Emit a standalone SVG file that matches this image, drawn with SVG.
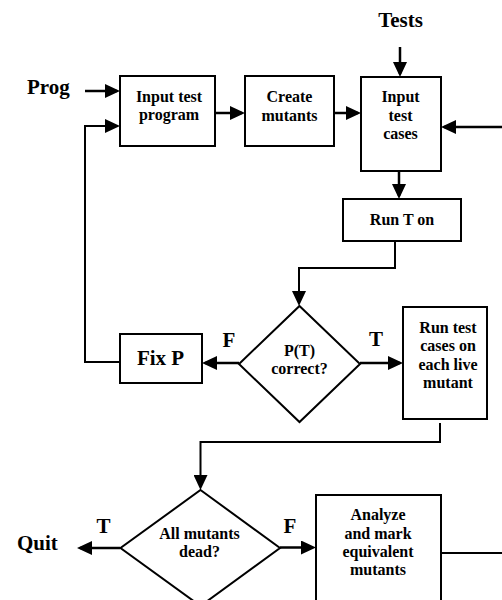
<svg xmlns="http://www.w3.org/2000/svg" width="502" height="600" viewBox="0 0 502 600">
<style>
.box{fill:#fff;stroke:#000;stroke-width:2}
.dia{fill:#fff;stroke:#000;stroke-width:2}
.t{font-family:"Liberation Serif","Times New Roman",serif;font-weight:bold;font-size:16px;text-anchor:middle;fill:#000}
.b{font-family:"Liberation Serif","Times New Roman",serif;font-weight:bold;font-size:21px;fill:#000}
.c{fill:none;stroke:#000;stroke-width:2.5}
.thin{fill:none;stroke:#000;stroke-width:2}
</style>
<defs>
<marker id="ah" markerWidth="15" markerHeight="14" refX="12" refY="7" orient="auto" markerUnits="userSpaceOnUse">
<path d="M0,0 L15,7 L0,14 z" fill="#000"/>
</marker>
</defs>
<rect width="502" height="600" fill="#fff"/>
<g id="connectors">
<path class="c" d="M85,91 H117" marker-end="url(#ah)"/>
<path class="thin" d="M120,362 H85 V126 H117" marker-end="url(#ah)"/>
<path class="c" d="M215,113 H242" marker-end="url(#ah)"/>
<path class="c" d="M334,113 H358" marker-end="url(#ah)"/>
<path class="c" d="M400,47 V74" marker-end="url(#ah)"/>
<path class="c" d="M502,127 H444" marker-end="url(#ah)"/>
<path class="c" d="M399,171 V196" marker-end="url(#ah)"/>
<path class="thin" d="M395,241 V268 H299 V303" marker-end="url(#ah)"/>
<path class="c" d="M239,363 H205" marker-end="url(#ah)"/>
<path class="c" d="M360,363 H400" marker-end="url(#ah)"/>
<path class="thin" d="M440,423 V442 H200.5 V487" marker-end="url(#ah)"/>
<path class="c" d="M120,548 H80" marker-end="url(#ah)"/>
<path class="c" d="M280,547.5 H313" marker-end="url(#ah)"/>
<path class="thin" d="M441,553 H502"/>
</g>
<g id="labels">
<text class="b" x="27" y="94">Prog</text>
<text class="b" x="400.5" y="27" text-anchor="middle">Tests</text>
<text class="b" x="17" y="550">Quit</text>
<text class="b" x="229" y="347" text-anchor="middle">F</text>
<text class="b" x="376" y="345.5" text-anchor="middle">T</text>
<text class="b" x="103.5" y="533" text-anchor="middle">T</text>
<text class="b" x="290" y="533" text-anchor="middle">F</text>
</g>
<g id="input-program">
<rect class="box" x="120" y="76" width="95" height="70"/>
<text class="t" x="169" y="102">Input test</text>
<text class="t" x="169" y="120">program</text>
</g>
<g id="create-mutants">
<rect class="box" x="245" y="76" width="89" height="70"/>
<text class="t" x="289.5" y="102">Create</text>
<text class="t" x="289.5" y="120.5">mutants</text>
</g>
<g id="input-cases">
<rect class="box" x="361" y="77" width="80" height="94"/>
<text class="t" x="400.5" y="102">Input</text>
<text class="t" x="400.5" y="120.5">test</text>
<text class="t" x="400.5" y="139">cases</text>
</g>
<g id="run-t">
<rect class="box" x="343" y="199" width="118" height="42"/>
<text class="t" x="402" y="224.5">Run T on</text>
</g>
<g id="pt-correct">
<polygon class="dia" points="299.5,306 360,364 299.5,422 239,364"/>
<text class="t" x="299.5" y="355.5">P(T)</text>
<text class="t" x="299.5" y="374">correct?</text>
</g>
<g id="fix-p">
<rect class="box" x="120" y="334" width="82" height="49"/>
<text class="t" x="160.5" y="365" style="font-size:21px">Fix P</text>
</g>
<g id="run-test">
<rect class="box" x="403" y="307" width="84" height="112"/>
<text class="t" x="448" y="332.5">Run test</text>
<text class="t" x="448" y="351">cases on</text>
<text class="t" x="448" y="369.5">each live</text>
<text class="t" x="448" y="388">mutant</text>
</g>
<g id="all-dead">
<polygon class="dia" points="200.5,490 280,548 200.5,606 120.5,548"/>
<text class="t" x="199.5" y="539">All mutants</text>
<text class="t" x="199.5" y="557">dead?</text>
</g>
<g id="analyze">
<rect class="box" x="316" y="495" width="125" height="130"/>
<text class="t" x="378" y="520">Analyze</text>
<text class="t" x="378" y="538.5">and mark</text>
<text class="t" x="378" y="557">equivalent</text>
<text class="t" x="378" y="575">mutants</text>
</g>
</svg>
